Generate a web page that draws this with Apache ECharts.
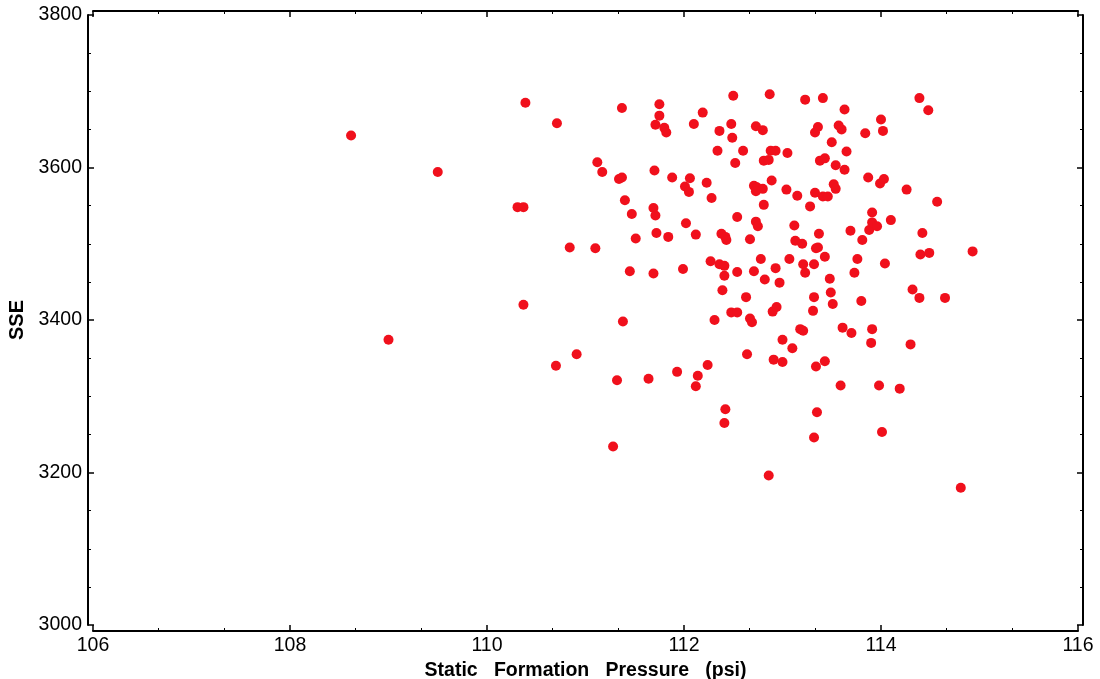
<!DOCTYPE html>
<html>
<head>
<meta charset="utf-8">
<script src="https://cdn.jsdelivr.net/npm/echarts@6/dist/echarts.min.js"></script>
<style>
html,body{margin:0;padding:0;background:#fff;}
#chart{width:1100px;height:679px;}
</style>
</head>
<body>
<div id="chart"></div>
<script>
// Static Formation Pressure (psi)
const pressure = [
108.62,109.50,109.00,110.39,110.31,110.37,110.37,110.71,110.70,110.84,
110.91,111.10,111.12,111.17,111.28,111.32,111.34,111.37,111.37,111.38,
111.40,111.47,111.45,111.51,111.69,111.71,111.70,111.69,111.64,111.75,
111.75,111.71,111.80,111.82,111.72,111.84,111.88,112.02,112.01,112.05,
112.06,111.99,111.93,112.10,112.12,112.14,112.12,112.19,112.23,112.28,
112.24,112.27,112.36,112.41,112.41,112.39,112.31,112.34,112.36,112.38,
112.42,112.43,112.42,112.41,112.48,112.50,112.49,112.52,112.48,112.54,
112.54,112.54,112.60,112.63,112.64,112.67,112.69,112.67,112.71,112.73,
112.80,112.71,112.74,112.80,112.73,112.73,112.75,112.78,112.82,112.81,
112.81,112.86,112.87,112.88,112.93,112.89,112.86,112.90,112.94,112.91,
112.93,112.97,113.05,113.04,113.00,113.00,113.07,113.10,113.15,113.12,
113.13,113.20,113.21,113.23,113.18,113.21,113.23,113.28,113.32,113.32,
113.31,113.34,113.35,113.32,113.33,113.36,113.33,113.34,113.36,113.37,
113.38,113.43,113.41,113.41,113.46,113.43,113.43,113.48,113.49,113.51,
113.50,113.52,113.54,113.54,113.57,113.60,113.63,113.65,113.63,113.59,
113.61,113.70,113.69,113.73,113.76,113.81,113.80,113.84,113.87,113.88,
113.91,113.96,113.91,113.91,113.90,113.98,114.01,113.99,114.03,114.00,
114.02,114.04,114.10,114.19,114.26,114.30,114.32,114.39,114.39,114.48,
114.42,114.40,114.49,114.57,114.65,114.93,114.81
];
// SSE
const sse = [
3642,3594,3374,3685,3548,3548,3420,3658,3340,3495,
3355,3494,3607,3594,3234,3321,3585,3587,3678,3398,
3557,3539,3464,3507,3547,3537,3596,3461,3323,3683,
3668,3656,3652,3646,3514,3509,3587,3527,3575,3568,
3586,3467,3332,3657,3512,3327,3313,3672,3580,3560,
3341,3477,3473,3471,3458,3439,3400,3622,3648,3513,
3509,3505,3283,3265,3657,3694,3639,3606,3410,3410,
3535,3463,3622,3430,3355,3402,3397,3506,3464,3654,
3649,3576,3574,3572,3569,3529,3523,3480,3453,3551,
3609,3610,3696,3622,3622,3583,3196,3411,3417,3348,
3468,3449,3619,3571,3374,3345,3480,3363,3563,3524,
3504,3500,3473,3462,3388,3386,3689,3549,3473,3430,
3412,3339,3279,3246,3646,3653,3567,3494,3495,3513,
3609,3612,3691,3562,3562,3483,3346,3454,3436,3421,
3633,3578,3572,3603,3655,3650,3676,3621,3597,3314,
3390,3383,3517,3462,3480,3505,3425,3645,3587,3518,
3528,3523,3541,3388,3370,3314,3253,3579,3585,3663,
3648,3474,3531,3310,3571,3368,3440,3429,3691,3675,
3514,3486,3488,3555,3429,3490,3180
];
const xTicks = [106, 108, 110, 112, 114, 116];
const yTicks = [3000, 3200, 3400, 3600, 3800];

const points = pressure.map((p, i) => [p, sse[i]]);

const chart = echarts.init(document.getElementById('chart'), null, {renderer: 'canvas'});
const fontFam = '"Liberation Sans", Arial, sans-serif';
const lineStyle = {color: '#000', width: 2};
const plain = v => String(v);
chart.setOption({
  animation: false,
  backgroundColor: '#fff',
  grid: {left: 93, right: 22, top: 15, bottom: 54, containLabel: false, outerBoundsMode: 'none'},
  xAxis: [{
    type: 'value', min: xTicks[0], max: xTicks[xTicks.length - 1], interval: 2,
    position: 'bottom', offset: 6,
    name: 'Static   Formation   Pressure   (psi)', nameLocation: 'middle', nameGap: 26,
    nameTextStyle: {fontFamily: fontFam, fontWeight: 'bold', fontSize: 19.5, color: '#000'},
    axisLine: {show: true, lineStyle: lineStyle},
    axisTick: {show: true, inside: true, length: 6, lineStyle: {color: '#000', width: 1.5}},
    minorTick: {show: true, splitNumber: 3, length: 3, lineStyle: {color: '#000', width: 1}},
    axisLabel: {fontFamily: fontFam, fontSize: 19.5, color: '#000', margin: 5, formatter: plain},
    splitLine: {show: false}
  }, {
    type: 'value', min: xTicks[0], max: xTicks[xTicks.length - 1], interval: 2,
    position: 'top', offset: 4,
    axisLine: {show: true, lineStyle: lineStyle},
    axisTick: {show: true, inside: true, length: 6, lineStyle: {color: '#000', width: 1.5}},
    minorTick: {show: true, splitNumber: 3, length: 3, lineStyle: {color: '#000', width: 1}},
    axisLabel: {show: false},
    splitLine: {show: false}
  }],
  yAxis: [{
    type: 'value', min: yTicks[0], max: yTicks[yTicks.length - 1], interval: 200,
    position: 'left', offset: 5,
    name: 'SSE', nameLocation: 'middle', nameGap: 60, nameRotate: 90,
    nameTextStyle: {fontFamily: fontFam, fontWeight: 'bold', fontSize: 20, color: '#000'},
    axisLine: {show: true, lineStyle: lineStyle},
    axisTick: {show: true, inside: true, length: 6, lineStyle: {color: '#000', width: 1.5}},
    minorTick: {show: true, splitNumber: 4, length: 3, lineStyle: {color: '#000', width: 1}},
    axisLabel: {fontFamily: fontFam, fontSize: 19.5, color: '#000', margin: 6, formatter: plain},
    splitLine: {show: false}
  }, {
    type: 'value', min: yTicks[0], max: yTicks[yTicks.length - 1], interval: 200,
    position: 'right', offset: 5,
    axisLine: {show: true, lineStyle: lineStyle},
    axisTick: {show: true, inside: true, length: 6, lineStyle: {color: '#000', width: 1.5}},
    minorTick: {show: true, splitNumber: 4, length: 3, lineStyle: {color: '#000', width: 1}},
    axisLabel: {show: false},
    splitLine: {show: false}
  }],
  series: [{
    type: 'scatter',
    xAxisIndex: 0, yAxisIndex: 0,
    data: points,
    symbol: 'circle',
    symbolSize: 10,
    itemStyle: {color: '#f0101c', opacity: 1}
  }]
});
</script>
</body>
</html>
